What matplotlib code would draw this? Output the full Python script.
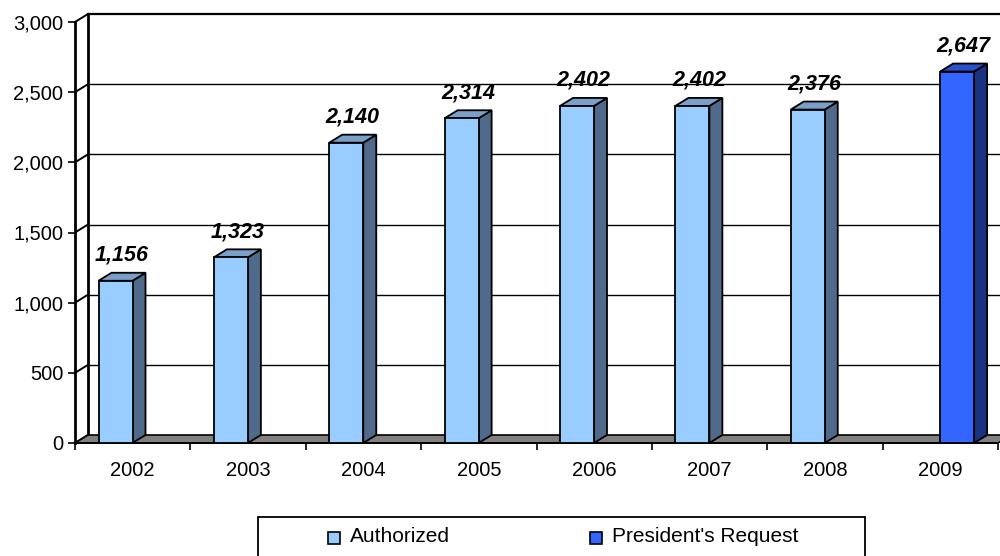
import matplotlib.pyplot as plt
from matplotlib.patches import Polygon, Rectangle
from matplotlib.ticker import FuncFormatter

plt.rcParams['font.family'] = ['Liberation Sans', 'DejaVu Sans']

years = ['2002', '2003', '2004', '2005', '2006', '2007', '2008', '2009']
authorized = [1156, 1323, 2140, 2314, 2402, 2402, 2376, None]
presidents_request = [None, None, None, None, None, None, None, 2647]
series_names = ['Authorized', "President's Request"]

# face colours: front, top, side
light = ('#99CCFF', '#7A9FC8', '#4F6A8A')
dark = ('#3366FF', '#2A52C8', '#1A3380')

W, H = 1000, 556
fig = plt.figure(figsize=(W / 100, H / 100), dpi=100)


def fx(px):
    return px / W


def fy(py):
    return 1 - py / H


# front plot plane: x 75..998 px, value 0 at y=443, 3000 at y=22
ax = fig.add_axes([fx(75), fy(443), fx(998) - fx(75), fy(22) - fy(443)])
ax.set_xlim(0, len(years))
ax.set_ylim(0, 3000)
ax.patch.set_alpha(0)

px_x = 923 / len(years)
px_y = 421 / 3000
dx = 13 / px_x       # depth offset in category units
dy = 8 / px_y        # depth offset in value units
bw = 34 / px_x       # bar width
gap = 23.5 / px_x    # gap before first bar in a category

ymax = 3000
n = len(years)

# back wall gridlines and left wall
for v in range(0, ymax + 1, 500):
    lw = 1.6 if v == ymax else 1.0
    if v > 0:
        ax.plot([dx, n + dx], [v + dy, v + dy], color='black', lw=lw,
                clip_on=False, zorder=1)
    ax.plot([0, dx], [v, v + dy], color='black', lw=1.4, clip_on=False, zorder=1)
ax.plot([dx, dx], [dy, ymax + dy], color='black', lw=2, clip_on=False, zorder=1)

# floor
floor = Polygon([(0, 0), (n, 0), (n + dx, dy), (dx, dy)], closed=True,
                facecolor='#808080', edgecolor='black', lw=1.2,
                clip_on=False, zorder=2)
ax.add_patch(floor)


def draw_bar(x0, v, cols):
    front, top, side = cols
    kw = dict(edgecolor='black', lw=1.3, clip_on=False, zorder=3, joinstyle='miter')
    ax.add_patch(Polygon([(x0 + bw, 0), (x0 + bw + dx, dy), (x0 + bw + dx, v + dy),
                          (x0 + bw, v)], closed=True, facecolor=side, **kw))
    ax.add_patch(Polygon([(x0, v), (x0 + bw, v), (x0 + bw + dx, v + dy),
                          (x0 + dx, v + dy)], closed=True, facecolor=top, **kw))
    ax.add_patch(Rectangle((x0, 0), bw, v, facecolor=front, **kw))
    ax.annotate(f'{v:,}', xy=(x0 + (bw + dx) / 2, v + dy), xytext=(0, 5),
                textcoords='offset points', ha='center', va='bottom',
                fontsize=15.5, fontweight='bold', fontstyle='italic', zorder=5)


for i in range(n):
    for j, (vals, cols) in enumerate([(authorized, light), (presidents_request, dark)]):
        v = vals[i]
        if v is not None:
            draw_bar(i + gap + j * bw, v, cols)

# axes lines and ticks
for s in ['top', 'right']:
    ax.spines[s].set_visible(False)
ax.spines['left'].set_linewidth(2)
ax.spines['bottom'].set_linewidth(1.4)
ax.spines['left'].set_zorder(4)
ax.set_yticks(range(0, ymax + 1, 500))
ax.yaxis.set_major_formatter(FuncFormatter(lambda v, p: f'{int(v):,}'))
ax.tick_params(axis='y', length=5, width=1.2, pad=3.5, labelsize=14.5)
ax.set_xticks(range(n + 1))
ax.set_xticklabels([])
ax.set_xticks([i + 0.5 for i in range(n)], minor=True)
ax.set_xticklabels(years, minor=True)
ax.tick_params(axis='x', which='major', length=5, width=1.2)
ax.tick_params(axis='x', which='minor', length=0, pad=13, labelsize=14.5)

# legend box along the bottom
fig.patches.append(Rectangle((fx(258), fy(560)), fx(865) - fx(258), fy(517) - fy(560),
                             transform=fig.transFigure, facecolor='white',
                             edgecolor='black', lw=1.3))
for name, cols, mx in zip(series_names, [light, dark], [328, 590]):
    fig.patches.append(Rectangle((fx(mx), fy(544)), fx(12), fy(532) - fy(544),
                                 transform=fig.transFigure, facecolor=cols[0],
                                 edgecolor='black', lw=1.2))
    fig.text(fx(mx + 22), fy(537), name, ha='left', va='center', fontsize=15)

fig.savefig('out.png', dpi=100)
